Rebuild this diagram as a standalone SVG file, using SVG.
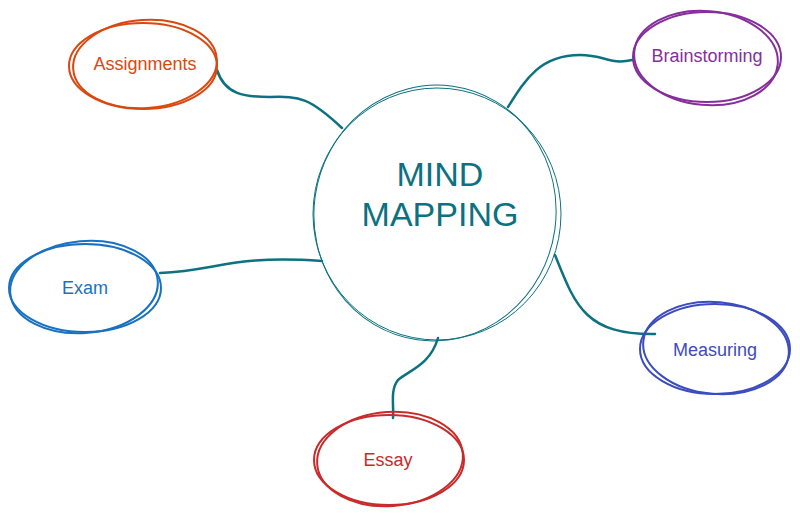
<svg xmlns="http://www.w3.org/2000/svg" width="800" height="517" viewBox="0 0 800 517">
<style>
text{font-family:"Liberation Sans",Arial,sans-serif;text-anchor:middle;dominant-baseline:central}
.n{fill:none;stroke-width:2}
.c{fill:none;stroke:#0c7180;stroke-width:2.5;stroke-linecap:round}
</style>
<rect width="800" height="517" fill="#fff"/>
<g id="connectors">
<path class="c" d="M217,70 C225,95 245,97 270,97 C300,96 310,98 342,128"/>
<path class="c" d="M508,107 C525,80 540,55 580,55 C605,55 610,65 632,60"/>
<path class="c" d="M160,273 C220,270 230,255 322,261"/>
<path class="c" d="M555,255 C575,305 585,335 655,334"/>
<path class="c" d="M438,338 C430,365 410,370 398,380 C390,390 394,405 393,418"/>
</g>
<g id="center">
<ellipse cx="437" cy="214" rx="124" ry="126" fill="none" stroke="#0c7180" stroke-width="1"/>
<ellipse cx="435" cy="213" rx="121" ry="128" fill="none" stroke="#0c7180" stroke-width="1" transform="rotate(8 435 213)"/>
<text x="440" y="174" font-size="34" fill="#0c7180">MIND</text>
<text x="440" y="214" font-size="34" fill="#0c7180">MAPPING</text>
</g>
<g id="assignments">
<ellipse class="n" cx="143" cy="66" rx="74" ry="43" stroke="#d9480f"/>
<ellipse class="n" cx="145" cy="64" rx="72" ry="44" stroke="#d9480f" transform="rotate(-4 145 64)"/>
<text x="145" y="64" font-size="18" fill="#d9480f">Assignments</text>
</g>
<g id="brainstorming">
<ellipse class="n" cx="707" cy="57" rx="74" ry="45" stroke="#862e9c"/>
<ellipse class="n" cx="706" cy="58" rx="72" ry="47" stroke="#862e9c" transform="rotate(5 706 58)"/>
<text x="707" y="56" font-size="18" fill="#862e9c">Brainstorming</text>
</g>
<g id="exam">
<ellipse class="n" cx="85" cy="288" rx="76" ry="44" stroke="#1971c2"/>
<ellipse class="n" cx="84" cy="287" rx="74" ry="46" stroke="#1971c2" transform="rotate(-5 84 287)"/>
<text x="85" y="288" font-size="18" fill="#1971c2">Exam</text>
</g>
<g id="measuring">
<ellipse class="n" cx="715" cy="349" rx="75" ry="45" stroke="#3b4cc0"/>
<ellipse class="n" cx="716" cy="348" rx="73" ry="46" stroke="#3b4cc0" transform="rotate(5 716 348)"/>
<text x="715" y="350" font-size="18" fill="#3b4cc0">Measuring</text>
</g>
<g id="essay">
<ellipse class="n" cx="389" cy="460" rx="75" ry="45" stroke="#c92a2a"/>
<ellipse class="n" cx="390" cy="459" rx="73" ry="47" stroke="#c92a2a" transform="rotate(-4 390 459)"/>
<text x="388" y="460" font-size="18" fill="#c92a2a">Essay</text>
</g>
</svg>
